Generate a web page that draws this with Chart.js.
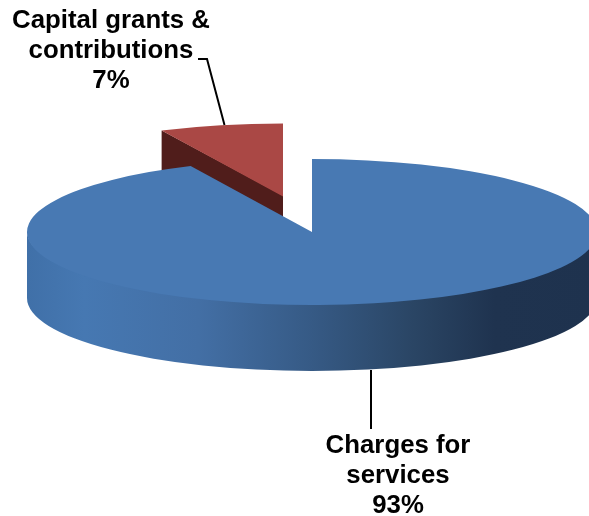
<!DOCTYPE html>
<html>
<head>
<meta charset="utf-8">
<style>
    body { margin: 0; background: #fff; }
    canvas { display: block; }
</style>
<script src="https://cdn.jsdelivr.net/npm/chart.js@4/dist/chart.umd.min.js"></script>
</head>
<body>
<canvas id="revenue-pie" width="589" height="516"></canvas>
<script>
// Slices, drawn back to front
const categories = [['Capital grants &', 'contributions'], ['Charges for', 'services']];
const shares = [7, 93];

const sliceColors = ['#aa4845', '#4879b3'];
const cutFaceColor = '#501d1b';

const squash = 73 / 285;
const rimDepth = 66;
const pullOut = { x: -29, y: -35.5 };

function createRevenuePie() {
    const node = document.getElementById('revenue-pie');

    const tiltPlugin = {
        id: 'tilt',

        // pull the small slice away from the centre
        afterDatasetUpdate(chart) {
            const arc = chart.getDatasetMeta(0).data[0];
            arc.x += pullOut.x;
            arc.y += pullOut.y / squash;
        },

        beforeDatasetsDraw(chart) {
            const ctx = chart.ctx;
            const [small, large] = chart.getDatasetMeta(0).data;
            const cx = large.x;
            const cy = large.y;
            const r = large.outerRadius;

            // cut face of the small slice, seen behind the large one
            // (top edges sit 1px under the flat faces so no seam shows)
            const ax = small.x;
            const ay = cy + (small.y - cy) * squash;
            const ex = ax + Math.cos(small.startAngle) * r;
            const ey = ay + Math.sin(small.startAngle) * r * squash;
            ctx.fillStyle = cutFaceColor;
            ctx.beginPath();
            ctx.moveTo(ex, ey);
            ctx.lineTo(ax, ay - 1);
            ctx.lineTo(ax, ay + rimDepth);
            ctx.lineTo(ex, ey + rimDepth);
            ctx.closePath();
            ctx.fill();

            // front rim of the large slice
            const rim = ctx.createLinearGradient(cx - r, 0, cx + r, 0);
            rim.addColorStop(0, '#4070a8');
            rim.addColorStop(0.1, '#4678b2');
            rim.addColorStop(0.3, '#436fa5');
            rim.addColorStop(0.5, '#365a85');
            rim.addColorStop(0.68, '#2a4564');
            rim.addColorStop(0.82, '#1f334f');
            rim.addColorStop(1, '#1e324e');
            ctx.fillStyle = rim;
            ctx.beginPath();
            ctx.ellipse(cx, cy - 1, r, r * squash, 0, 0, Math.PI);
            ctx.ellipse(cx, cy + rimDepth, r, r * squash, 0, Math.PI, 0, true);
            ctx.closePath();
            ctx.fill();

            // top faces are the library's own arcs, flattened into an ellipse
            ctx.save();
            ctx.translate(cx, cy);
            ctx.scale(1, squash);
            ctx.translate(-cx, -cy);
        },

        afterDatasetsDraw(chart) {
            const ctx = chart.ctx;
            ctx.restore();

            // leader lines
            ctx.strokeStyle = '#000';
            ctx.lineWidth = 2;
            ctx.beginPath();
            ctx.moveTo(198, 59);
            ctx.lineTo(207, 59);
            ctx.lineTo(224.5, 125);
            ctx.moveTo(371, 370);
            ctx.lineTo(371, 429);
            ctx.stroke();

            // slice labels
            ctx.fillStyle = '#000';
            ctx.font = 'bold 25.8px "Liberation Sans", Arial, sans-serif';
            ctx.textAlign = 'center';
            ctx.textBaseline = 'alphabetic';
            const spots = [{ x: 111, y: 27.5 }, { x: 398, y: 453 }];
            categories.forEach((lines, i) => {
                [...lines, shares[i] + '%'].forEach((text, row) => {
                    ctx.fillText(text, spots[i].x, spots[i].y + row * 30);
                });
            });
        },
    };

    new Chart(node, {
        type: 'pie',
        data: {
            labels: categories,
            datasets: [{
                data: shares,
                backgroundColor: sliceColors,
                borderWidth: 0,
                clip: false,
            }],
        },
        options: {
            responsive: false,
            animation: false,
            events: [],
            radius: 285,
            // small slice ends at twelve o'clock, large one starts there
            rotation: -360 * shares[0] / (shares[0] + shares[1]),
            layout: {
                padding: { left: 35, bottom: 52 },
            },
            plugins: {
                legend: { display: false },
                tooltip: { enabled: false },
            },
        },
        plugins: [tiltPlugin],
    });
}

createRevenuePie();
</script>
</body>
</html>
